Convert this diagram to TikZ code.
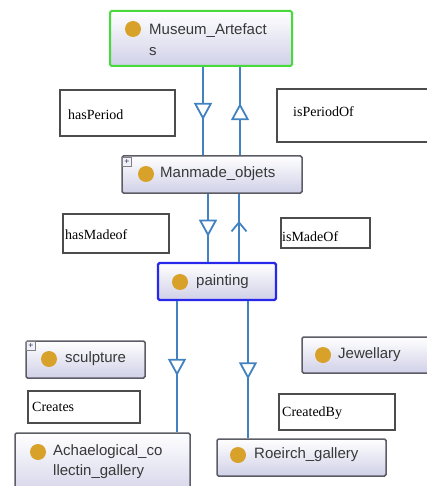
\documentclass[tikz,border=0pt]{standalone}
\usepackage{fontspec}
\setmainfont{Liberation Serif}
\newfontfamily\clsfont{Liberation Sans}
\usetikzlibrary{arrows.meta,%
		calc,%
		decorations.markings,%
		positioning}

\definecolor{linkblue}{RGB}{66,130,192}
\definecolor{dotgold}{RGB}{216,162,42}
\definecolor{boxlav}{RGB}{208,208,232}
\definecolor{boxgray}{RGB}{92,92,102}
\definecolor{selgreen}{RGB}{72,218,60}
\definecolor{selblue}{RGB}{40,40,236}

\tikzset{
	cls/.style={draw=boxgray, line width=1.5pt, rounded corners=1.5pt,
		top color=white, bottom color=boxlav, inner sep=0pt},
	clsname/.style={font=\clsfont\fontsize{15}{21}\selectfont, text=black!78,
		anchor=west, inner sep=0pt, align=left},
	clsdot/.style={circle, fill=dotgold, minimum size=16pt, inner sep=0pt},
	plusbox/.style={draw=gray, fill=blue!6, minimum size=9pt, inner sep=0pt,
		font=\fontsize{9}{9}\selectfont},
	lbl/.style={draw=black!70, line width=1.2pt, fill=white, inner sep=0pt},
	lbltext/.style={font=\fontsize{14}{15}\selectfont, anchor=west, inner sep=0pt},
	link/.style={draw=linkblue, line width=2.8pt},
	tipdown/.style={link, postaction={decorate}, decoration={markings,
		mark=at position #1 with {\arrow[linkblue]{Triangle[fill=white, width=18pt, length=17pt, line width=1.8pt]}}}},
	tipup/.style={link, postaction={decorate}, decoration={markings,
		mark=at position #1 with {\arrow[linkblue]{Straight Barb[width=15pt, length=9pt, line width=1.8pt]}}}},
}

\begin{document}
\begin{tikzpicture}[x=1pt,y=-1pt]
\useasboundingbox[fill=white] (0,0) rectangle (427,486);
%classi
\node[cls, draw=selgreen, line width=2pt, minimum width=182pt, minimum height=55pt] (museum) at (201,38.5) {};
\node[clsdot] (museumdot) at (133,29) {};
\node[clsname] (museumtxt) at (149,39.5) {Museum\_Artefact\\s};

\node[cls, minimum width=180pt, minimum height=37pt] (manmade) at (212,174.5) {};
\node[plusbox] (manmadeplus) at (127,162) {+};
\node[clsdot] (manmadedot) at (146,174) {};
\node[clsname] (manmadetxt) at (160,174) {Manmade\_objets};

\node[cls, draw=selblue, line width=2.2pt, minimum width=118pt, minimum height=37pt] (painting) at (217,281.5) {};
\node[clsdot] (paintingdot) at (180,282) {};
\node[clsname] (paintingtxt) at (196,282) {painting};

\node[cls, minimum width=119pt, minimum height=37pt] (sculpture) at (85.5,359.5) {};
\node[plusbox] (sculptureplus) at (31,346) {+};
\node[clsdot] (sculpturedot) at (49,359) {};
\node[clsname] (sculpturetxt) at (65,359) {sculpture};

\node[cls, minimum width=128pt, minimum height=36pt] (jewellary) at (366,355) {};
\node[clsdot] (jewellarydot) at (323,355) {};
\node[clsname] (jewellarytxt) at (338,355) {Jewellary};

\node[cls, minimum width=175pt, minimum height=67pt] (achaelogical) at (102.5,466.5) {};
\node[clsdot] (achaelogicaldot) at (38,452) {};
\node[clsname, font=\clsfont\fontsize{15}{20}\selectfont] (achaelogicaltxt) at (53,462) {Achaelogical\_co\\llectin\_gallery};

\node[cls, minimum width=169pt, minimum height=37pt] (roeirch) at (301.5,457.5) {};
\node[clsdot] (roeirchdot) at (238,455) {};
\node[clsname] (roeirchtxt) at (254,455) {Roeirch\_gallery};

%etichette
\node[lbl, minimum width=115pt, minimum height=46pt] (hp) at (117.5,113) {};
\node[lbltext] (hptxt) at (68,115) {hasPeriod};
\node[lbl, minimum width=163pt, minimum height=53pt] (ipo) at (358.5,115.5) {};
\node[lbltext] (ipotxt) at (293,112) {isPeriodOf};
\node[lbl, minimum width=106pt, minimum height=39pt] (hmo) at (116,233.5) {};
\node[lbltext] (hmotxt) at (65,235) {hasMadeof};
\node[lbl, minimum width=89pt, minimum height=30pt] (imo) at (325.5,233) {};
\node[lbltext] (imotxt) at (282,237) {isMadeOf};
\node[lbl, minimum width=112pt, minimum height=32pt] (cr) at (84,407) {};
\node[lbltext] (crtxt) at (32,407) {Creates};
\node[lbl, minimum width=116pt, minimum height=36pt] (cb) at (337,412) {};
\node[lbltext] (cbtxt) at (282,413) {CreatedBy};

%collegamenti
\coordinate (xhp) at (203,0);
\coordinate (xipo) at (240,0);
\coordinate (xhmo) at (208,0);
\coordinate (ximo) at (239,0);
\coordinate (xcr) at (177,0);
\coordinate (xcb) at (248,0);
\draw[tipdown=0.6] (museum.south -| xhp) -- (manmade.north -| xhp);
\draw[tipdown=0.59] (manmade.north -| xipo) -- (museum.south -| xipo);
\draw[tipdown=0.63] (manmade.south -| xhmo) -- (painting.north -| xhmo);
\draw[tipup=0.6] (painting.north -| ximo) -- (manmade.south -| ximo);
\draw[tipdown=0.57] (painting.south -| xcr) -- (achaelogical.north -| xcr);
\draw[tipdown=0.57] (painting.south -| xcb) -- (roeirch.north -| xcb);
\end{tikzpicture}
\end{document}
